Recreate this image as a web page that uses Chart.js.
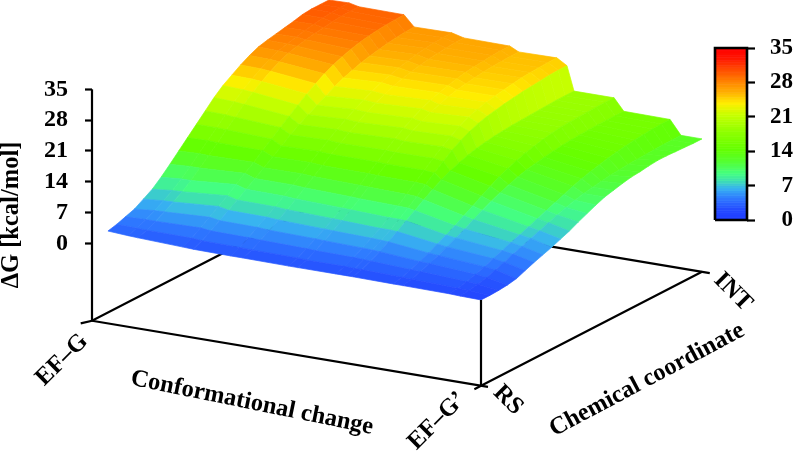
<!DOCTYPE html>
<html>
<head>
<meta charset="utf-8">
<title>Free energy surface</title>
<style>
  html, body { margin: 0; padding: 0; background: #fff; }
  canvas { display: block; }
</style>
<script src="https://cdn.jsdelivr.net/npm/chart.js@4/dist/chart.umd.min.js"></script>
</head>
<body>
<canvas id="surface" width="793" height="452"></canvas>
<script>
// conformational coordinate of each column, EF-G = 0, EF-G' = 1
var conformational = [0.041, 0.093, 0.118, 0.234, 0.260, 0.357, 0.388, 0.506, 0.529, 0.627, 0.653, 0.671, 0.774, 0.799, 0.918, 0.946, 1];

// chemical coordinate of each row, RS = 0, INT = 1
var chemical = [0, 0.04, 0.08, 0.12, 0.16, 0.20, 0.24, 0.28, 0.32, 0.36, 0.40, 0.44, 0.48, 0.52, 0.56, 0.60, 0.64, 0.68, 0.72, 0.76, 0.80, 0.84, 0.88, 0.92, 0.96, 1];

// dG [kcal/mol] read along each column, RS to INT
var col00 = [3.4, 3.9, 4.6, 5.3, 6.5, 7.7, 9.4, 11.3, 13.3, 15.3, 17.3, 19.3, 21.3, 23.0, 24.3, 25.6, 26.7, 27.6, 28.1, 28.5, 28.9, 29.3, 29.8, 30.0, 30.0, 30.0];
var col01 = [3.1, 3.8, 4.7, 5.7, 6.9, 8.2, 9.8, 11.6, 13.5, 15.4, 17.3, 19.2, 21.1, 22.8, 24.2, 25.5, 26.6, 27.5, 28.1, 28.6, 29.0, 29.4, 29.8, 30.0, 30.1, 30.1];
var col02 = [3.0, 3.7, 4.7, 5.8, 7.0, 8.3, 9.8, 11.6, 13.4, 15.3, 17.2, 19.0, 20.9, 22.6, 24.0, 25.3, 26.4, 27.3, 27.9, 28.3, 28.7, 29.0, 29.3, 29.5, 29.6, 29.6];
var col03 = [2.6, 3.6, 4.9, 6.3, 7.7, 9.1, 10.6, 12.1, 13.6, 15.2, 16.8, 18.4, 19.9, 21.4, 22.9, 24.2, 25.4, 26.4, 27.2, 27.9, 28.4, 28.8, 29.1, 29.3, 29.4, 29.5];
var col04 = [2.5, 3.4, 4.6, 5.9, 7.2, 8.5, 9.9, 11.3, 12.7, 14.2, 15.6, 17.1, 18.4, 19.6, 20.7, 21.8, 22.9, 23.8, 24.5, 25.2, 25.7, 26.1, 26.5, 26.8, 27.0, 27.1];
var col05 = [2.4, 3.3, 4.5, 5.8, 7.1, 8.4, 9.8, 11.3, 12.8, 14.3, 15.8, 17.3, 18.7, 20.0, 21.2, 22.3, 23.3, 24.2, 24.9, 25.5, 26.0, 26.4, 26.8, 27.0, 27.2, 27.2];
var col06 = [2.4, 3.2, 4.4, 5.6, 6.9, 8.2, 9.6, 11.1, 12.6, 14.1, 15.6, 17.1, 18.5, 19.8, 21.0, 22.1, 23.0, 23.8, 24.5, 25.0, 25.4, 25.8, 26.1, 26.3, 26.5, 26.5];
var col07 = [2.3, 3.1, 4.2, 5.4, 6.6, 7.9, 9.3, 10.8, 12.4, 14.0, 15.6, 17.2, 18.8, 20.2, 21.4, 22.5, 23.4, 24.1, 24.7, 25.2, 25.6, 25.9, 26.1, 26.3, 26.4, 26.4];
var col08 = [2.3, 3.0, 4.1, 5.3, 6.5, 7.8, 9.2, 10.7, 12.3, 13.9, 15.5, 17.1, 18.6, 19.9, 21.0, 22.0, 22.8, 23.5, 24.0, 24.4, 24.7, 25.0, 25.2, 25.3, 25.4, 25.4];
var col09 = [2.3, 3.0, 4.0, 5.1, 6.3, 7.5, 8.9, 10.5, 12.1, 13.8, 15.5, 17.2, 18.8, 20.2, 21.4, 22.4, 23.1, 23.7, 24.1, 24.5, 24.8, 25.1, 25.3, 25.4, 25.5, 25.5];
var col10 = [2.3, 2.9, 3.9, 5.0, 6.2, 7.5, 8.9, 10.4, 12.0, 13.7, 15.3, 16.9, 18.4, 19.6, 20.6, 21.4, 22.0, 22.4, 22.8, 23.1, 23.4, 23.6, 23.8, 24.0, 24.1, 24.1];
var col11 = [2.3, 2.9, 3.8, 4.9, 6.1, 7.4, 8.8, 10.1, 11.5, 12.8, 14.0, 15.0, 15.8, 16.5, 17.0, 17.4, 17.7, 17.9, 18.1, 18.2, 18.3, 18.4, 18.5, 18.6, 18.6, 18.6];
var col12 = [2.2, 2.7, 3.4, 4.2, 5.1, 6.1, 7.1, 8.2, 9.4, 10.6, 11.8, 13.0, 14.1, 15.0, 15.8, 16.5, 17.0, 17.5, 17.9, 18.2, 18.3, 18.4, 18.5, 18.6, 18.6, 18.6];
var col13 = [2.2, 2.6, 3.3, 4.1, 4.9, 5.8, 6.8, 7.8, 8.9, 10.0, 11.0, 11.9, 12.7, 13.4, 14.0, 14.4, 14.8, 15.1, 15.4, 15.6, 15.7, 15.8, 15.9, 15.9, 15.9, 15.9];
var col14 = [2.1, 2.3, 2.8, 3.4, 4.1, 4.9, 5.7, 6.5, 7.2, 8.0, 8.8, 9.6, 10.4, 11.2, 12.0, 12.7, 13.3, 13.8, 14.3, 14.7, 15.0, 15.3, 15.5, 15.7, 15.8, 15.8];
var col15 = [2.0, 2.2, 2.6, 3.1, 3.8, 4.5, 5.3, 6.0, 6.8, 7.5, 8.3, 9.0, 9.7, 10.3, 10.8, 11.2, 11.5, 11.8, 12.0, 12.2, 12.3, 12.4, 12.5, 12.6, 12.6, 12.6];
var col16 = [1.9, 1.9, 2.0, 2.2, 2.6, 3.4, 4.2, 4.9, 5.6, 6.4, 7.2, 8.2, 9.1, 10.0, 10.8, 11.3, 11.8, 12.2, 12.4, 12.7, 12.9, 12.9, 12.8, 12.7, 12.6, 12.6];

var columns = [col00, col01, col02, col03, col04, col05, col06, col07, col08, col09, col10, col11, col12, col13, col14, col15, col16];

var energyTicks = [0, 7, 14, 21, 28, 35];

// jet-like palette of the colour bar
var paletteValues = [0, 2, 4.5, 6.5, 8, 9.5, 12, 14.5, 18, 21.5, 23.8, 26, 28, 31, 33, 35];
var paletteColors = ['#1f3cff', '#2448ff', '#2f7cff', '#38b4f0', '#3ee0b0', '#44ff80', '#55ff30', '#66ff00', '#90ff00', '#c8ff00', '#ffee00', '#ffb000', '#ff8800', '#ff4400', '#ff1400', '#ff0000'];

function hexToRgb(hex) {
    return [parseInt(hex.substr(1, 2), 16), parseInt(hex.substr(3, 2), 16), parseInt(hex.substr(5, 2), 16)];
}

function colorFor(value) {
    var i = 0;
    while (i < paletteValues.length - 2 && value > paletteValues[i + 1]) i++;
    var t = (value - paletteValues[i]) / (paletteValues[i + 1] - paletteValues[i]);
    t = Math.max(0, Math.min(1, t));
    var a = hexToRgb(paletteColors[i]);
    var b = hexToRgb(paletteColors[i + 1]);
    var c = [0, 1, 2].map(function (k) { return Math.round(a[k] + (b[k] - a[k]) * t); });
    return 'rgb(' + c.join(',') + ')';
}

// oblique view: u along the front edge, v towards the back, z on the energy scale
var FLOOR = -17.6;

function project(u, v, z) {
    return { x: 92 + 389 * u + 221 * v, y: z + (114 * v - 65 * u) / 4.4 };
}

function lineSet(points, order, yAxisID, width) {
    return {
        data: points,
        showLine: true,
        fill: false,
        tension: 0,
        pointRadius: 0,
        borderColor: '#000',
        borderWidth: width || 2.2,
        borderCapStyle: 'butt',
        clip: false,
        order: order,
        yAxisID: yAxisID || 'y'
    };
}

function shapeSet(points, color, order, yAxisID) {
    return {
        data: points,
        showLine: true,
        fill: 'shape',
        tension: 0,
        pointRadius: 0,
        backgroundColor: color,
        borderColor: color,
        borderWidth: 0.7,
        clip: false,
        order: order,
        yAxisID: yAxisID || 'y'
    };
}

var datasets = [];
var order = 5000;

// floor and axes go first, the surface covers part of them
datasets.push(lineSet([project(-0.012, -0.03, FLOOR), project(0, 0, FLOOR), project(0, 1, FLOOR), project(1.02, 1, FLOOR)], order--));
datasets.push(lineSet([project(0, 0, FLOOR), project(1.018, 0, FLOOR)], order--));
datasets.push(lineSet([project(1, -0.03, FLOOR), project(1, 0, FLOOR), project(1, 1, FLOOR)], order--));
datasets.push(lineSet([project(0, 0, FLOOR), project(0, 0, 35)], order--));

// back row first and left to right, so nearer cells paint over farther ones
for (var r = chemical.length - 2; r >= 0; r--) {
    for (var c = 0; c < conformational.length - 1; c++) {
        var z00 = columns[c][r], z10 = columns[c + 1][r], z11 = columns[c + 1][r + 1], z01 = columns[c][r + 1];
        datasets.push(shapeSet([
            project(conformational[c], chemical[r], z00),
            project(conformational[c + 1], chemical[r], z10),
            project(conformational[c + 1], chemical[r + 1], z11),
            project(conformational[c], chemical[r + 1], z01),
            project(conformational[c], chemical[r], z00)
        ], colorFor((z00 + z10 + z11 + z01) / 4), order--));
    }
}

// front vertical edge stays on top of the surface border
datasets.push(lineSet([project(1, 0, FLOOR), project(1, 0, col16[0])], order--));

// colour bar on its own axis
for (var level = 0; level < 35; level += 0.5) {
    datasets.push(shapeSet([
        { x: 715, y: level }, { x: 747, y: level }, { x: 747, y: level + 0.5 }, { x: 715, y: level + 0.5 }, { x: 715, y: level }
    ], colorFor(level + 0.25), order--, 'yBar'));
}
datasets.push(lineSet([{ x: 715, y: 0 }, { x: 747, y: 0 }, { x: 747, y: 35 }, { x: 715, y: 35 }, { x: 715, y: 0 }], order--, 'yBar', 2.6));

var SERIF = '"Liberation Serif", "Times New Roman", serif';

var axisTexts = [
    { text: '\u0394G [kcal/mol]', x: 12, y: 215, angle: -90, size: 24.5 },
    { text: 'EF\u2013G', x: 62, y: 360, angle: -45, size: 24.5 },
    { text: 'Conformational change', x: 252, y: 403, angle: 11.5, size: 24.5 },
    { text: 'EF\u2013G\u2019', x: 437, y: 421, angle: -45, size: 24.5 },
    { text: 'RS', x: 508, y: 400, angle: 45, size: 24.5 },
    { text: 'Chemical coordinate', x: 647, y: 380, angle: -28, size: 24.5 },
    { text: 'INT', x: 733, y: 292, angle: 45, size: 24.5 }
];

var textPlugin = {
    id: 'axisTexts',
    afterDraw: function (chart) {
        var ctx = chart.ctx;
        ctx.save();
        ctx.fillStyle = '#000';
        ctx.textAlign = 'center';
        ctx.textBaseline = 'middle';
        axisTexts.forEach(function (t) {
            ctx.save();
            ctx.translate(t.x, t.y);
            ctx.rotate(t.angle * Math.PI / 180);
            ctx.font = 'bold ' + t.size + 'px ' + SERIF;
            ctx.fillText(t.text, 0, 0);
            ctx.restore();
        });
        ctx.restore();
    }
};

var setTicks = function (scale) {
    scale.ticks = energyTicks.map(function (v) { return { value: v }; });
};

var chart = new Chart(document.getElementById('surface'), {
    type: 'scatter',
    data: { datasets: datasets },
    options: {
        responsive: false,
        animation: false,
        events: [],
        layout: { padding: 0 },
        plugins: { legend: { display: false }, tooltip: { enabled: false } },
        scales: {
            x: { type: 'linear', display: false, min: 92, max: 747 },
            y: {
                type: 'linear',
                position: 'left',
                min: -47.43,
                max: 55.3,
                border: { display: false },
                grid: { drawOnChartArea: false, drawTicks: true, tickLength: 7, tickWidth: 2.2, tickColor: '#000' },
                ticks: { autoSkip: false, padding: 17, color: '#000', font: { family: SERIF, weight: 'bold', size: 24 } },
                afterBuildTicks: setTicks,
                afterFit: function (scale) { scale.width = 92; scale.paddingTop = 0; scale.paddingBottom = 0; }
            },
            yBar: {
                type: 'linear',
                position: 'right',
                min: -47.21,
                max: 44.77,
                border: { display: false },
                grid: { drawOnChartArea: false, drawTicks: true, tickLength: 8, tickWidth: 2.2, tickColor: '#000' },
                ticks: { autoSkip: false, padding: 4, crossAlign: 'far', color: '#000', font: { family: SERIF, weight: 'bold', size: 23 } },
                afterBuildTicks: setTicks,
                afterFit: function (scale) { scale.width = 46; scale.paddingTop = 0; scale.paddingBottom = 0; }
            }
        }
    },
    plugins: [textPlugin]
});
</script>
</body>
</html>
